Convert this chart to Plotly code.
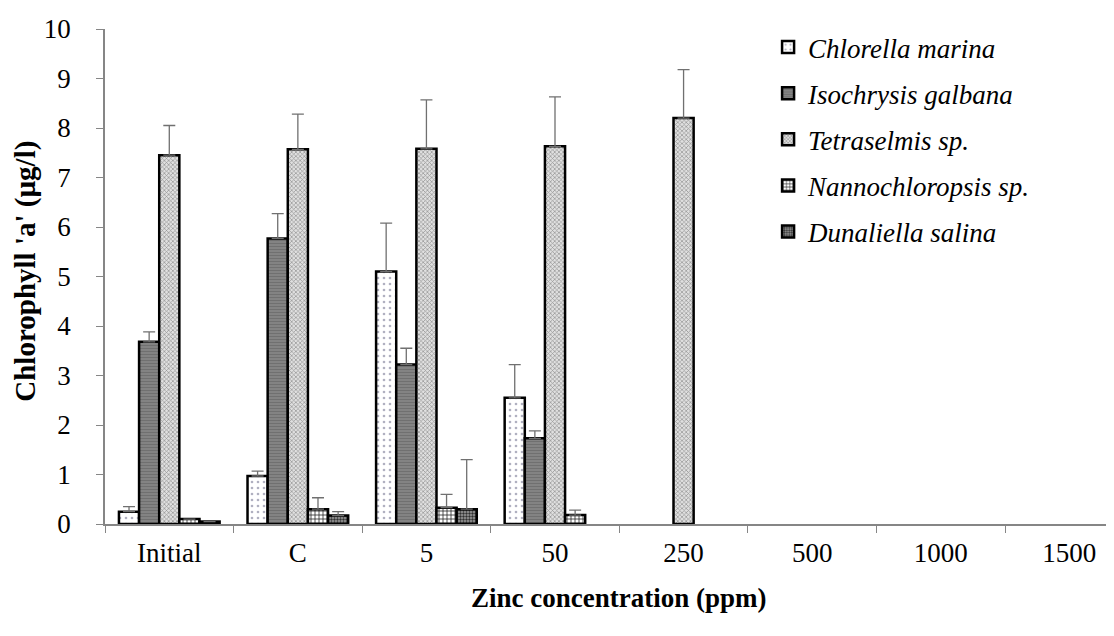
import plotly.graph_objects as go

categories = ["Initial", "C", "5", "50", "250", "500", "1000", "1500"]

chlorella = [0.25, 0.97, 5.10, 2.55, None, None, None, None]
chlorella_err = [0.10, 0.10, 0.98, 0.67, 0, 0, 0, 0]
isochrysis = [3.68, 5.77, 3.22, 1.73, None, None, None, None]
isochrysis_err = [0.20, 0.50, 0.33, 0.15, 0, 0, 0, 0]
tetraselmis = [7.45, 7.57, 7.58, 7.63, 8.20, None, None, None]
tetraselmis_err = [0.60, 0.71, 0.99, 1.00, 0.98, 0, 0, 0]
nanno = [0.10, 0.30, 0.33, 0.18, None, None, None, None]
nanno_err = [0.0, 0.23, 0.27, 0.10, 0, 0, 0, 0]
dunaliella = [0.05, 0.17, 0.30, None, None, None, None, None]
dunaliella_err = [0.0, 0.08, 1.00, 0, 0, 0, 0, 0]

series = [
    ("Chlorella marina", chlorella, chlorella_err,
     dict(shape=".", bgcolor="white", fgcolor="#b0b0c0", size=6, solidity=0.15)),
    ("Isochrysis galbana", isochrysis, isochrysis_err,
     dict(shape="-", bgcolor="#858585", fgcolor="#707070", size=3, solidity=0.4)),
    ("Tetraselmis sp.", tetraselmis, tetraselmis_err,
     dict(shape="x", bgcolor="#e0e0e0", fgcolor="#909090", size=3, solidity=0.4)),
    ("Nannochloropsis sp.", nanno, nanno_err,
     dict(shape="+", bgcolor="white", fgcolor="#202020", size=4, solidity=0.35)),
    ("Dunaliella salina", dunaliella, dunaliella_err,
     dict(shape=".", bgcolor="#a0a0a0", fgcolor="#303030", size=3, solidity=0.5)),
]

font_family = "Liberation Serif"

fig = go.Figure()
for i, (name, vals, errs, pat) in enumerate(series):
    fig.add_trace(go.Bar(
        name=name,
        x=categories,
        y=vals,
        legendgroup=f"g{i}",
        marker=dict(color=pat["bgcolor"], line=dict(color="black", width=2.5),
                    pattern=dict(shape=pat["shape"], bgcolor=pat["bgcolor"],
                                 fgcolor=pat["fgcolor"], size=pat["size"],
                                 solidity=pat["solidity"], fillmode="replace")),
        error_y=dict(type="data", array=errs, arrayminus=[0] * len(errs),
                     symmetric=False, color="#707070", thickness=1.3, width=6),
    ))

fig.update_layout(
    width=1114, height=636,
    paper_bgcolor="white", plot_bgcolor="white",
    margin=dict(l=97, r=0, t=21, b=120),
    barmode="group", bargap=0.217, bargroupgap=0,
    font=dict(family=font_family, size=27, color="black"),
    legend=dict(x=0.652, y=1.012, xanchor="left", yanchor="top",
                font=dict(family=font_family, size=27, style="italic"),
                tracegroupgap=8, itemwidth=30, bgcolor="rgba(0,0,0,0)"),
    xaxis=dict(
        range=[-0.5, 7.41], automargin=False,
        showline=True, linecolor="#868686", linewidth=1.5,
        ticks="outside", tickson="boundaries", ticklen=7, tickcolor="#868686",
        ticklabelstandoff=4,
        showgrid=False, zeroline=False,
    ),
    yaxis=dict(
        range=[0, 10], dtick=1, tick0=0, automargin=False,
        showline=True, linecolor="#868686", linewidth=1.5,
        ticks="outside", ticklen=7, tickcolor="#868686",
        ticklabelstandoff=20,
        showgrid=False, zeroline=False,
    ),
    annotations=[
        dict(text="<b>Zinc concentration (ppm)</b>", xref="paper", yref="paper",
             x=0.505, y=-0.15, xanchor="center", yanchor="middle", showarrow=False,
             font=dict(family=font_family, size=27)),
        dict(text="<b>Chlorophyll 'a' (µg/l)</b>", xref="paper", yref="paper",
             x=-0.079, y=0.511, xanchor="center", yanchor="middle", showarrow=False,
             textangle=-90, font=dict(family=font_family, size=29)),
    ],
)

fig.write_html("out.html")
